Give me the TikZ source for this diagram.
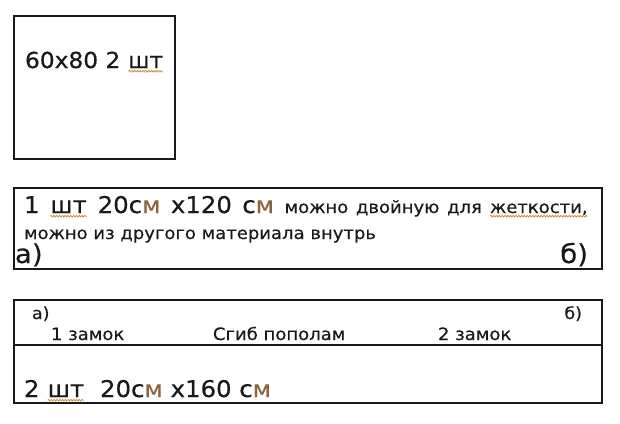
\documentclass[tikz,border=0pt]{standalone}
\usepackage{fontspec}
\setmainfont[FakeStretch=1.06,FakeBold=0.4]{DejaVu Sans}
\usetikzlibrary{decorations.pathmorphing}
\definecolor{wavecol}{HTML}{C8903C}
\definecolor{mcol}{HTML}{8A6440}
\newcommand{\sqg}[1]{\tikz[baseline=(w.base)]{\node[inner sep=0pt,outer sep=0pt] (w) {#1};
  \draw[wavecol,line width=0.8pt,decorate,decoration={snake,amplitude=0.8pt,segment length=2.8pt}]
    ([yshift=-3.2pt]w.base west) -- ([yshift=-3.2pt]w.base east);}}
\newcommand{\om}{\textcolor{mcol}{м}}
\begin{document}
\begin{tikzpicture}[x=1pt,y=-1pt,
  boxline/.style={draw=black!90,line width=1.4pt},
  txt/.style={inner sep=0pt,outer sep=0pt,anchor=base west,text=black!90},
  txtr/.style={inner sep=0pt,outer sep=0pt,anchor=base east,text=black!90}]
\useasboundingbox[fill=white] (0,0) rectangle (620,423);
% box 1
\draw[boxline] (14,16) rectangle (175,159);
\node[txt,font=\fontsize{22}{26}\selectfont] (t1) at (25,68) {60x80 2 \sqg{шт}};
% box 2
\draw[boxline] (14,188) rectangle (602,269);
\node[txt] (l1) at (24,213) {\makebox[564pt][s]{\fontsize{23}{27}\selectfont 1 \sqg{шт} 20с\om{} х120 с\om{} \fontsize{17}{20}\selectfont можно двойную для \sqg{жеткости,}}};
\node[txt,font=\fontsize{17}{20}\selectfont] (l2) at (24,239) {можно из другого материала внутрь};
\node[txt,font=\fontsize{26}{30}\selectfont] (a1) at (15,263) {а)};
\node[txtr,font=\fontsize{26}{30}\selectfont] (b1) at (588,263) {б)};
% box 3
\draw[boxline] (14,300) rectangle (602,403);
\draw[boxline] (14,345) -- (602,345);
\node[txt,font=\fontsize{16.5}{19}\selectfont] (a2) at (32,319) {а)};
\node[txtr,font=\fontsize{16.5}{19}\selectfont] (b2) at (582,319) {б)};
\node[txt,font=\fontsize{17}{20}\selectfont] (z1) at (51,340) {1 замок};
\node[txt,font=\fontsize{17}{20}\selectfont] (sg) at (213,340) {Сгиб пополам};
\node[txt,font=\fontsize{17}{20}\selectfont] (z2) at (438,340) {2 замок};
\node[txt,font=\fontsize{23}{27}\selectfont] (t3) at (24,397) {2 \sqg{шт}\ \ 20с\om{} х160 с\om};
\end{tikzpicture}
\end{document}
